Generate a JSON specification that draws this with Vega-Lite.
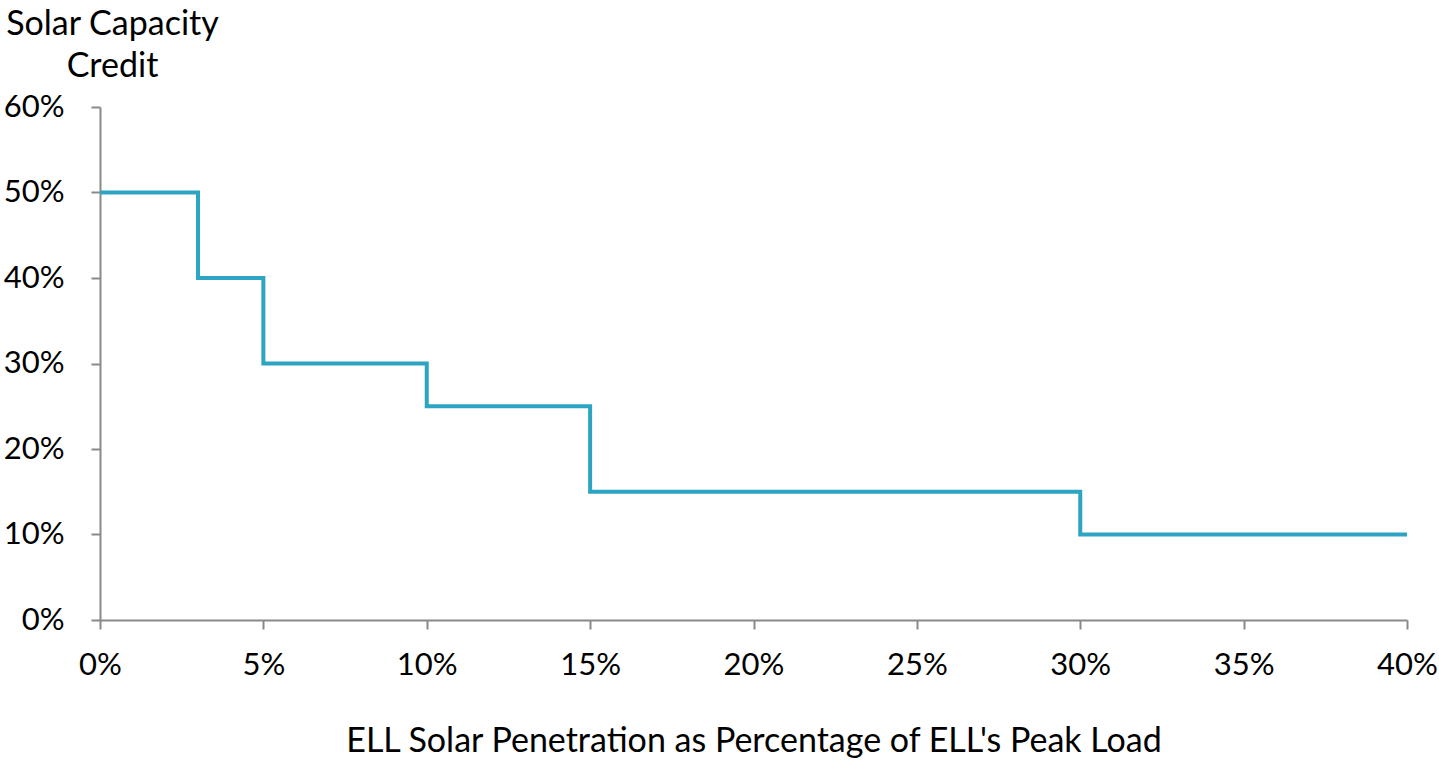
{
  "$schema": "https://vega.github.io/schema/vega-lite/v6.json",
  "width": 1307,
  "height": 513,
  "autosize": "none",
  "padding": {"left": 100, "top": 107, "right": 32, "bottom": 140},
  "background": "white",
  "config": {
    "view": {"stroke": null},
    "font": "Lato",
    "axis": {
      "grid": false,
      "domainColor": "#898989",
      "tickColor": "#898989",
      "domainWidth": 2,
      "tickWidth": 2,
      "tickSize": 9,
      "labelFont": "Lato",
      "labelFontSize": 31,
      "labelColor": "#000000",
      "titleFont": "Lato",
      "titleFontSize": 34,
      "titleFontWeight": "normal",
      "titleColor": "#000000"
    }
  },
  "data": {
    "values": [
      {"penetration": 0.00, "credit": 0.50},
      {"penetration": 0.03, "credit": 0.40},
      {"penetration": 0.05, "credit": 0.30},
      {"penetration": 0.10, "credit": 0.25},
      {"penetration": 0.15, "credit": 0.15},
      {"penetration": 0.30, "credit": 0.10},
      {"penetration": 0.40, "credit": 0.10}
    ]
  },
  "mark": {"type": "line", "interpolate": "step-after", "color": "#2CA4C2", "strokeWidth": 4},
  "encoding": {
    "x": {
      "field": "penetration",
      "type": "quantitative",
      "scale": {"domain": [0, 0.4], "nice": false},
      "axis": {
        "values": [0, 0.05, 0.1, 0.15, 0.2, 0.25, 0.3, 0.35, 0.4],
        "format": ".0%",
        "labelPadding": 21,
        "labelFlush": false,
        "title": "ELL Solar Penetration as Percentage of ELL's Peak Load",
        "titleY": 131,
        "titleBaseline": "alphabetic"
      }
    },
    "y": {
      "field": "credit",
      "type": "quantitative",
      "scale": {"domain": [0, 0.6], "nice": false},
      "axis": {
        "values": [0, 0.1, 0.2, 0.3, 0.4, 0.5, 0.6],
        "format": ".0%",
        "labelPadding": 27,
        "title": ["Solar Capacity", "Credit"],
        "titleAngle": 0,
        "titleAlign": "center",
        "titleX": 12,
        "titleY": -73,
        "titleBaseline": "alphabetic",
        "titleLineHeight": 42
      }
    }
  }
}
